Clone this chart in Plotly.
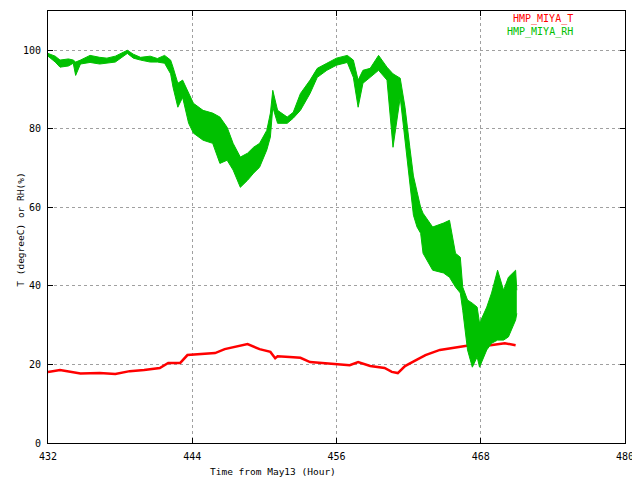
import plotly.graph_objects as go

# HMP_MIYA_T: temperature (degC) vs hours from May13
t_hour = [432.0, 433.0, 434.7, 436.3, 437.6, 438.8, 440.0, 441.3, 442.0, 443.0, 443.6,
          444.6, 445.9, 446.7, 448.0, 448.6, 449.6, 450.5, 450.9, 451.1, 452.1, 453.0,
          453.8, 454.6, 455.9, 457.1, 457.8, 458.8, 460.0, 460.6, 461.1, 461.7, 462.5,
          463.4, 464.6, 465.9, 467.1, 468.8, 470.0, 470.9]
t_val = [18.1, 18.6, 17.7, 17.8, 17.6, 18.3, 18.6, 19.1, 20.4, 20.4, 22.4,
         22.6, 22.9, 23.9, 24.9, 25.2, 23.9, 23.2, 21.6, 22.1, 21.9, 21.7,
         20.6, 20.4, 20.1, 19.8, 20.6, 19.6, 19.1, 18.1, 17.8, 19.6, 20.9,
         22.4, 23.7, 24.4, 24.9, 24.9, 25.4, 24.9]

# HMP_MIYA_RH: relative humidity (%), lower / upper edge of the noisy trace
rh_hour = [432.0, 432.6, 433.0, 433.7, 434.1, 434.3, 434.7, 435.5, 436.3, 436.9, 437.6,
           438.6, 439.1, 439.7, 440.5, 441.1, 441.7, 442.2, 442.4, 442.8, 443.2, 443.7,
           444.1, 444.9, 445.7, 446.3, 446.9, 447.4, 448.0, 448.6, 449.1, 449.6, 450.2,
           450.5, 450.7, 451.1, 451.9, 452.4, 453.0, 453.8, 454.4, 455.2, 456.0, 456.9,
           457.4, 457.8, 458.2, 458.8, 459.5, 460.2, 460.7, 461.3, 461.7, 462.1, 462.4,
           462.7, 463.0, 463.2, 464.0, 464.9, 465.4, 465.9, 466.3, 466.5, 466.9, 467.3,
           467.7, 467.9, 468.5, 468.9, 469.4, 469.9, 470.3, 470.9, 471.0]
rh_lo = [98.5, 97.0, 95.7, 96.0, 96.7, 93.6, 96.5, 96.9, 96.5, 96.7, 97.0,
         99.2, 98.0, 97.5, 97.0, 97.0, 96.7, 94.0, 90.6, 85.5, 88.0, 81.4,
         78.9, 77.1, 76.3, 71.2, 72.0, 69.5, 65.1, 66.9, 68.7, 70.2, 74.6,
         77.9, 85.5, 81.4, 81.4, 82.7, 84.7, 89.0, 93.1, 94.9, 96.2, 96.9,
         93.1, 85.5, 91.6, 93.1, 94.9, 92.4, 75.3, 88.0, 77.1, 66.9, 58.0,
         55.0, 53.4, 48.3, 44.0, 43.3, 42.2, 39.7, 38.2, 33.8, 23.7, 19.3,
         21.9, 19.3, 23.7, 25.4, 26.2, 26.2, 27.0, 31.3, 33.0]
rh_hi = [99.2, 98.5, 97.5, 97.8, 97.5, 97.0, 97.5, 98.7, 98.2, 98.0, 98.5,
         100.0, 99.0, 98.2, 98.5, 97.9, 98.7, 97.5, 95.7, 91.6, 92.4, 89.0,
         86.5, 84.7, 84.0, 83.0, 80.4, 76.3, 72.8, 73.8, 75.3, 76.3, 79.6,
         84.0, 89.8, 84.7, 83.0, 84.2, 89.0, 92.4, 95.4, 96.7, 98.0, 98.7,
         97.5, 92.4, 94.9, 95.4, 98.7, 95.7, 94.0, 92.9, 85.5, 75.3, 68.0,
         64.0, 60.0, 58.5, 55.0, 56.0, 56.7, 48.3, 47.3, 39.7, 36.4, 35.6,
         34.6, 30.5, 34.6, 38.2, 44.0, 38.9, 42.2, 44.0, 38.9]

x_ticks = [432, 444, 456, 468, 480]
y_ticks = [0, 20, 40, 60, 80, 100]

font = "DejaVu Sans Mono"
red = "#ff0000"
green = "#00c000"

fig = go.Figure()
fig.add_trace(go.Scatter(x=t_hour, y=t_val, mode="lines", name="HMP_MIYA_T",
                         line=dict(color=red, width=2.5)))
fig.add_trace(go.Scatter(x=rh_hour, y=rh_lo, mode="lines", name="HMP_MIYA_RH",
                         line=dict(color=green, width=1)))
fig.add_trace(go.Scatter(x=rh_hour, y=rh_hi, mode="lines", name="HMP_MIYA_RH",
                         line=dict(color=green, width=1), fill="tonexty",
                         fillcolor=green))

axis_common = dict(showline=True, linecolor="black", linewidth=1, mirror="ticks",
                   ticks="inside", ticklen=5, tickcolor="black", automargin=False,
                   showgrid=True, gridcolor="#a0a0a0", griddash="dot", gridwidth=1,
                   zeroline=False, tickfont=dict(family=font, size=10, color="black"))

fig.update_xaxes(range=[432, 480], tickvals=x_ticks, ticklabelstandoff=4, **axis_common)
fig.update_yaxes(range=[0, 110], tickvals=y_ticks, ticklabelstandoff=4, **axis_common)

# page is drawn 8px in from the window corner, so size/margins allow for that
fig.update_layout(width=632, height=472, showlegend=False,
                  paper_bgcolor="white", plot_bgcolor="white",
                  margin=dict(l=40, r=15, t=3, b=37))

# axis titles
fig.add_annotation(x=0.39, y=-0.067, xref="paper", yref="paper", text="Time from May13 (Hour)",
                   yanchor="middle", showarrow=False, font=dict(family=font, size=9.5, color="black"))
fig.add_annotation(x=-0.062, y=0.493, xref="paper", yref="paper", text="T (degreeC) or RH(%)",
                   textangle=-90, showarrow=False, font=dict(family=font, size=9.5, color="black"))

# legend as coloured text, top right like the original
fig.add_annotation(x=0.913, y=0.981, xref="paper", yref="paper", xanchor="right",
                   yanchor="middle", text="HMP_MIYA_T", showarrow=False,
                   font=dict(family=font, size=10, color=red))
fig.add_annotation(x=0.913, y=0.951, xref="paper", yref="paper", xanchor="right",
                   yanchor="middle", text="HMP_MIYA_RH", showarrow=False,
                   font=dict(family=font, size=10, color=green))

fig.write_html("out.html")
